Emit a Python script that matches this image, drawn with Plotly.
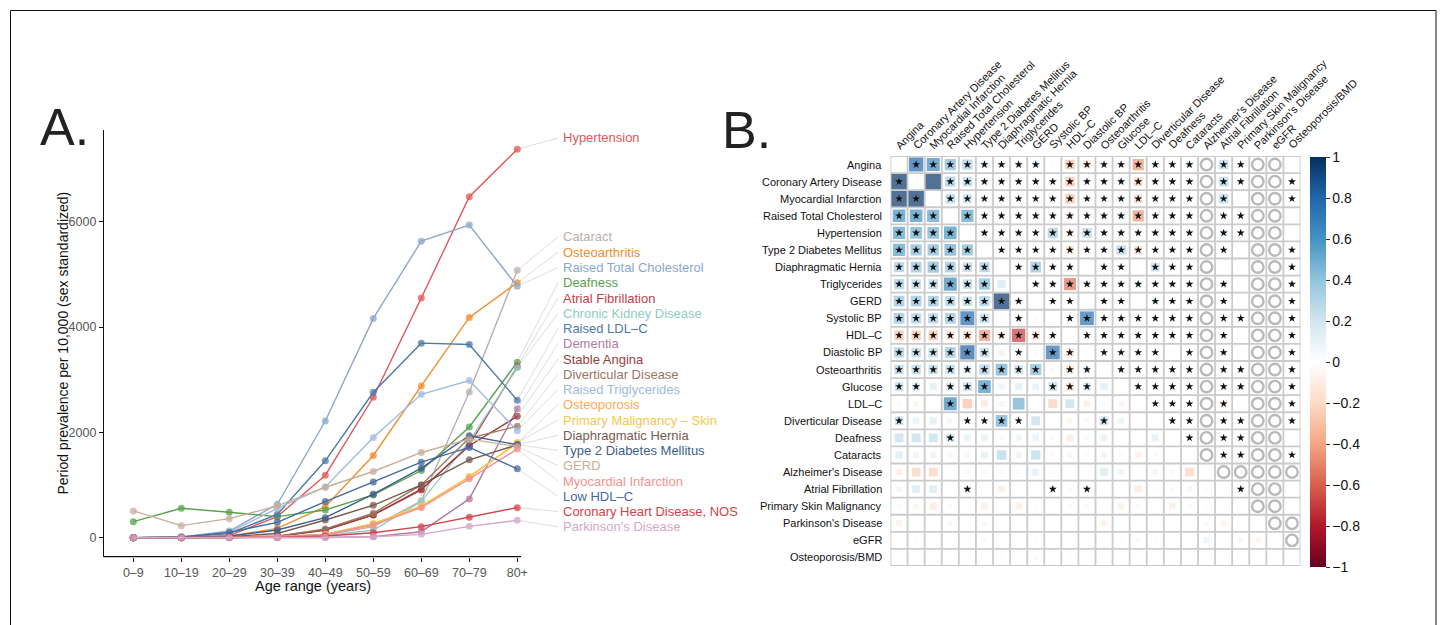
import math
import plotly.graph_objects as go

W, H = 1444, 625

# ---------------- Panel A data ----------------
ages = ["0–9", "10–19", "20–29", "30–39", "40–49", "50–59", "60–69", "70–79", "80+"]

hypertension = [0, 5, 40, 400, 1187, 2667, 4552, 6476, 7378]
cataract = [0, 0, 5, 15, 50, 210, 700, 2769, 5080]
osteoarthritis = [0, 2, 30, 178, 590, 1562, 2883, 4184, 4844]
raised_total_chol = [0, 10, 127, 635, 2216, 4165, 5632, 5937, 4775]
deafness = [305, 559, 483, 400, 527, 813, 1276, 2102, 3334]
atrial_fib = [0, 0, 5, 30, 146, 432, 908, 1765, 3250]
ckd = [0, 0, 5, 15, 40, 146, 686, 1829, 3226]
raised_ldl = [0, 10, 80, 444, 1460, 2762, 3695, 3670, 2610]
dementia = [0, 0, 0, 0, 5, 20, 114, 737, 2451]
stable_angina = [0, 0, 5, 20, 146, 432, 921, 1746, 2305]
diverticular = [0, 0, 5, 30, 165, 464, 1003, 1892, 2115]
raised_trig = [0, 15, 100, 559, 965, 1905, 2724, 2985, 2032]
osteoporosis = [0, 0, 5, 15, 60, 260, 590, 1162, 1797]
skin_malig = [0, 0, 5, 20, 60, 273, 603, 1150, 1810]
diaph_hernia = [0, 0, 20, 80, 337, 616, 1003, 1480, 1765]
t2dm = [0, 5, 30, 146, 381, 826, 1321, 1937, 1765]
gerd = [508, 229, 362, 603, 959, 1257, 1619, 1873, 1733]
myocardial_inf = [0, 0, 5, 20, 60, 241, 571, 1118, 1683]
low_hdl = [0, 15, 100, 292, 686, 1060, 1435, 1715, 1308]
chd_nos = [0, 0, 2, 10, 32, 95, 210, 387, 571]
parkinsons = [0, 0, 0, 2, 5, 19, 64, 216, 330]

series_names = ["Hypertension", "Cataract", "Osteoarthritis", "Raised Total Cholesterol",
                "Deafness", "Atrial Fibrillation", "Chronic Kidney Disease", "Raised LDL–C",
                "Dementia", "Stable Angina", "Diverticular Disease", "Raised Triglycerides",
                "Osteoporosis", "Primary Malignancy – Skin", "Diaphragmatic Hernia",
                "Type 2 Diabetes Mellitus", "GERD", "Myocardial Infarction", "Low HDL–C",
                "Coronary Heart Disease, NOS", "Parkinson's Disease"]
series_values = [hypertension, cataract, osteoarthritis, raised_total_chol, deafness,
                 atrial_fib, ckd, raised_ldl, dementia, stable_angina, diverticular,
                 raised_trig, osteoporosis, skin_malig, diaph_hernia, t2dm, gerd,
                 myocardial_inf, low_hdl, chd_nos, parkinsons]
series_colors = ["#E15759", "#BAB0AC", "#F28E2B", "#8BA8CB", "#59A14F", "#C1414B",
                 "#8FCCC3", "#4E79A7", "#B07AA1", "#9A3D3D", "#9C755F", "#A0BBDD",
                 "#FBAA55", "#F2C94C", "#7A5A4E", "#3E5F8A", "#C9AE9C", "#F4938F",
                 "#45699C", "#D5414A", "#D6A7C9"]

# ---------------- Panel B data ----------------
vars_b = ["Angina", "Coronary Artery Disease", "Myocardial Infarction", "Raised Total Cholesterol",
          "Hypertension", "Type 2 Diabetes Mellitus", "Diaphragmatic Hernia", "Triglycerides",
          "GERD", "Systolic BP", "HDL–C", "Diastolic BP", "Osteoarthritis", "Glucose", "LDL–C",
          "Diverticular Disease", "Deafness", "Cataracts", "Alzheimer's Disease",
          "Atrial Fibrillation", "Primary Skin Malignancy", "Parkinson's Disease", "eGFR",
          "Osteoporosis/BMD"]

corr = [
    [0, .80, .65, .45, .35, .15, .10, .10, .15, .03, -.30, -.20, .10, .10, -.45, .12, .08, .12, 0, .30, .05, 0, 0, .02],
    [.98, 0, .98, .35, .30, .10, .08, .08, .10, .08, -.30, .05, .08, .10, -.25, .12, .08, .10, 0, .30, .05, 0, 0, .05],
    [.98, .98, 0, .30, .25, .10, .08, .08, .10, .05, -.30, .05, .08, .10, -.22, .12, .08, .10, 0, .30, .03, 0, 0, .05],
    [.60, .60, .55, 0, .55, .10, .10, .12, .12, .10, -.15, .05, .10, .15, -.45, .10, .08, .10, 0, .10, .05, 0, 0, .02],
    [.55, .50, .50, .60, 0, .12, .08, .10, .05, .35, -.15, .30, .08, .12, .05, .10, .08, .08, 0, .15, .05, 0, 0, .02],
    [.55, .45, .45, .50, .45, 0, .05, .05, .05, .05, -.20, .05, .08, .30, -.20, .05, .05, .05, 0, .05, .02, 0, 0, .05],
    [.35, .40, .45, .40, .30, .35, 0, .05, .40, .05, .05, .02, .10, .05, .01, .25, .05, .05, 0, .03, .02, 0, 0, .05],
    [.35, .30, .30, .65, .30, .45, .20, 0, .05, .10, -.55, .12, .05, .05, .15, .05, .05, .05, 0, .05, .01, 0, 0, .05],
    [.40, .40, .40, .35, .30, .35, .98, .10, 0, .05, .05, .02, .10, .05, .01, .12, .05, .05, 0, .05, .01, 0, 0, .05],
    [.40, .35, .35, .40, .78, .30, .03, .10, .03, 0, .05, .75, .05, .10, .05, .05, .05, .05, 0, .05, .05, 0, 0, .05],
    [-.30, -.30, -.30, -.20, -.25, -.45, -.15, -.70, -.20, -.10, 0, -.10, .05, .05, .08, .05, .03, .03, 0, -.08, .02, 0, 0, -.08],
    [.35, .30, .30, .40, .82, .30, .10, .10, .05, .75, -.20, 0, .05, .05, .05, .05, .02, .05, 0, .05, .01, 0, 0, .05],
    [.30, .30, .30, .30, .20, .35, .50, .25, .45, .05, -.20, .15, 0, .05, .05, .10, .05, .10, 0, .05, .05, 0, 0, .05],
    [.25, .20, .15, .20, .25, .60, .10, .15, .12, .25, -.20, .20, .15, 0, .05, .05, .05, .05, 0, .05, .05, 0, 0, .05],
    [-.05, -.08, .02, .65, -.30, -.15, .08, .50, .02, -.25, .25, -.12, .05, -.08, 0, .05, .05, .05, 0, -.10, .01, 0, 0, .05],
    [.25, .12, .15, .08, .05, .05, .50, .05, .25, .02, -.08, .05, .25, .10, .01, 0, .05, .05, 0, .05, .05, 0, 0, .05],
    [.25, .25, .25, .22, .12, .12, .05, .10, .12, .05, -.14, .05, .12, .01, .02, .14, 0, .05, 0, .05, .05, 0, 0, .01],
    [.16, .10, .10, .08, .08, .14, .30, .10, .28, .05, -.08, .05, .10, .05, -.10, .05, .02, 0, 0, .05, .05, 0, 0, .05],
    [-.10, -.24, -.24, .01, -.05, .05, -.05, .05, .14, -.03, -.02, .02, .18, .10, .02, .08, .05, -.24, 0, 0, 0, 0, 0, 0],
    [.08, .18, .18, .02, .12, .02, -.12, .01, .01, .08, -.05, .10, .02, .02, -.14, .03, .05, .08, -.05, 0, .05, 0, 0, .01],
    [-.05, -.08, -.14, -.05, -.02, -.12, -.02, -.12, -.03, -.02, .05, -.05, .01, -.10, .05, .02, -.12, -.05, -.03, .01, 0, 0, 0, .01],
    [-.10, -.02, .01, -.06, -.02, -.06, .02, -.02, .02, .02, .02, .02, -.10, .02, .02, .02, .02, -.03, -.05, -.08, .02, 0, 0, 0],
    [.01, -.03, -.03, -.02, .02, .05, -.02, .02, .03, .02, .02, .02, .02, .03, .05, .03, .01, .03, .10, .03, .06, -.08, 0, 0],
    [.03, .01, .01, .01, .02, .03, -.03, .01, -.05, .01, -.03, .02, .03, .01, .02, .02, .01, .02, .02, .02, .02, .02, .01, 0],
]

# '*' significant, 'o' not estimable, '.' plain, '-' diagonal
marks = [
    "-********.********o**oo.",
    "*-.***************o**oo*",
    "**-***************o*.oo*",
    "***-**************o**oo.",
    "****-*************o**oo.",
    "*****-************o*.oo*",
    "******-****.**.***o..oo*",
    "******.-**********o*.oo*",
    "********-**.**.***o*.oo*",
    "******.*.-********o**oo*",
    "**********-*******o*.oo*",
    "******.*.**-****.*o*.oo*",
    "*********.**-*****o**oo*",
    "**.***...***.-****o**oo*",
    "...*..........-***o*.oo*",
    "*...****....*..-**o**oo*",
    "...*............-*o**oo.",
    ".................-o**oo*",
    "..................-ooooo",
    "....*....*.*.......-*oo.",
    "....................-oo.",
    ".....................-oo",
    "......................-o",
    ".......................-",
]

colorbar_ticks = [1, 0.8, 0.6, 0.4, 0.2, 0, -0.2, -0.4, -0.6, -0.8, -1]

# ---------------- layout helpers (pixels -> paper) ----------------
def px(x):
    return x / W

def py(y):
    return 1 - y / H

FONT = "Liberation Sans, Arial, Helvetica, sans-serif"

# Panel A axes geometry
A_left, A_right_dom, A_top, A_bottom = 104, 740, 130, 556.7
unit_px = 48.0
x0_px = 133.3
xr = [(A_left - x0_px) / unit_px, (A_right_dom - x0_px) / unit_px]
zero_px, per2000 = 537.7, 105.3
def val_from_py(p):
    return (zero_px - p) * 2000 / per2000
yr = [val_from_py(A_bottom), val_from_py(A_top)]

fig = go.Figure()

# connectors for labels
label_px = [138] + [237 + 15.25 * k for k in range(len(series_names) - 1)]
label_vals = [val_from_py(p) for p in label_px]
xs_con, ys_con = [], []
for v, lv in zip(series_values, label_vals):
    xs_con += [8, (558 - x0_px) / unit_px, None]
    ys_con += [v[-1], lv, None]
fig.add_trace(go.Scatter(x=xs_con, y=ys_con, mode="lines", xaxis="x", yaxis="y",
                         line=dict(color="#d4d4d4", width=0.8), hoverinfo="skip",
                         showlegend=False))

xi = list(range(len(ages)))
for name, vals, col in zip(series_names, series_values, series_colors):
    fig.add_trace(go.Scatter(x=xi, y=vals, mode="lines+markers", name=name,
                             xaxis="x", yaxis="y",
                             line=dict(color=col, width=1.4),
                             marker=dict(color=col, size=7, opacity=0.75),
                             showlegend=False))

annotations = []
for name, col, lv in zip(series_names, series_colors, label_vals):
    annotations.append(dict(x=(561 - x0_px) / unit_px, y=lv, xref="x", yref="y",
                            text=name, showarrow=False, xanchor="left", yanchor="middle",
                            font=dict(family=FONT, size=13, color=col)))

# ---------------- Panel B ----------------
n = len(vars_b)
B_left, B_right, B_top, B_bottom = 890.5, 1300.5, 156, 566
cell = (B_right - B_left) / n

# grid
gx, gy = [], []
for k in range(n + 1):
    gx += [k - 0.5, k - 0.5, None]
    gy += [-0.5, n - 0.5, None]
    gx += [-0.5, n - 0.5, None]
    gy += [k - 0.5, k - 0.5, None]
fig.add_trace(go.Scatter(x=gx, y=gy, mode="lines", xaxis="x2", yaxis="y2",
                         line=dict(color="#cbcbcb", width=1.8), hoverinfo="skip",
                         showlegend=False))

sq_x, sq_y, sq_c, sq_s = [], [], [], []
st_x, st_y, o_x, o_y = [], [], [], []
for i in range(n):
    for j in range(n):
        m = marks[i][j]
        if m == "-":
            continue
        if m == "o":
            o_x.append(j); o_y.append(i)
            continue
        r = corr[i][j]
        sq_x.append(j); sq_y.append(i); sq_c.append(r)
        sq_s.append(max(2.8, (cell - 1.6) * abs(r) ** 0.4))
        if m == "*":
            st_x.append(j); st_y.append(i)

rdbu = ["#67001F", "#B2182B", "#D6604D", "#F4A582", "#FDDBC7", "#FFFFFF",
        "#D1E5F0", "#92C5DE", "#4393C3", "#2166AC", "#053061"]
cscale = [[k / (len(rdbu) - 1), c] for k, c in enumerate(rdbu)]

fig.add_trace(go.Scatter(
    x=sq_x, y=sq_y, mode="markers", xaxis="x2", yaxis="y2", showlegend=False,
    marker=dict(symbol="square", size=sq_s, color=sq_c, colorscale=cscale,
                cmin=-1, cmax=1, line=dict(width=0),
                colorbar=dict(x=px(1310), xanchor="left", y=py(B_top + 1), yanchor="top",
                              lenmode="pixels", len=B_bottom - B_top, thickness=16,
                              thicknessmode="pixels", outlinewidth=0, xpad=0, ypad=0,
                              tickvals=colorbar_ticks,
                              ticktext=[("%g" % t).replace("-", "−") for t in colorbar_ticks],
                              ticks="outside", ticklen=4, tickcolor="#333",
                              tickfont=dict(family=FONT, size=14, color="#111")),
                showscale=True)))
fig.add_trace(go.Scatter(x=st_x, y=st_y, mode="markers", xaxis="x2", yaxis="y2",
                         showlegend=False,
                         marker=dict(symbol="star", size=6, color="#111111", line=dict(width=0))))
fig.add_trace(go.Scatter(x=o_x, y=o_y, mode="markers", xaxis="x2", yaxis="y2",
                         showlegend=False,
                         marker=dict(symbol="circle-open", size=11.5, color="#b9b9b9",
                                     line=dict(width=2.4, color="#b9b9b9"))))

# row labels
for i, v in enumerate(vars_b):
    annotations.append(dict(x=px(884), y=py(B_top + cell * (i + 0.5)), xref="paper", yref="paper",
                            text=v, showarrow=False, xanchor="right", yanchor="middle",
                            font=dict(family=FONT, size=11, color="#111")))
# column labels
for j, v in enumerate(vars_b):
    annotations.append(dict(x=px(B_left + cell * (j + 0.5) - 9), y=py(154),
                            xref="paper", yref="paper", text=v, showarrow=False,
                            textangle=-45, xanchor="left", yanchor="bottom",
                            font=dict(family=FONT, size=11, color="#111")))

# panel letters & axis titles
annotations += [
    dict(x=px(38), y=py(127), xref="paper", yref="paper", text="A.", showarrow=False,
         xanchor="left", yanchor="middle", font=dict(family=FONT, size=52, color="#222")),
    dict(x=px(720), y=py(130), xref="paper", yref="paper", text="B.", showarrow=False,
         xanchor="left", yanchor="middle", font=dict(family=FONT, size=52, color="#222")),
    dict(x=px(62), y=py(343.5), xref="paper", yref="paper",
         text="Period prevalence per 10,000 (sex standardized)", showarrow=False,
         textangle=-90, xanchor="center", yanchor="middle",
         font=dict(family=FONT, size=14, color="#111")),
    dict(x=px(313), y=py(586), xref="paper", yref="paper", text="Age range (years)",
         showarrow=False, xanchor="center", yanchor="middle",
         font=dict(family=FONT, size=14.5, color="#111")),
]

shapes = [
    dict(type="line", xref="paper", yref="paper", x0=px(A_left), x1=px(521),
         y0=py(A_bottom), y1=py(A_bottom), line=dict(color="#111", width=1.2)),
    dict(type="rect", xref="paper", yref="paper", x0=px(10.5), x1=px(1436), y0=-0.2,
         y1=py(10.5), line=dict(color="#111", width=1), fillcolor="rgba(0,0,0,0)"),
]

fig.update_layout(
    width=W, height=H, margin=dict(l=0, r=0, t=0, b=0, pad=0),
    paper_bgcolor="white", plot_bgcolor="rgba(0,0,0,0)",
    xaxis=dict(domain=[px(A_left), px(A_right_dom)], range=xr, tickvals=xi, ticktext=ages,
               showgrid=False, zeroline=False, showline=False, ticks="outside", ticklen=4,
               tickcolor="#111", tickfont=dict(family=FONT, size=12.5, color="#555")),
    yaxis=dict(domain=[py(A_bottom), py(A_top)], range=yr, tickvals=[0, 2000, 4000, 6000],
               showgrid=False, zeroline=False, showline=True, linecolor="#111", linewidth=1.2,
               ticks="outside", ticklen=4, tickcolor="#111",
               tickfont=dict(family=FONT, size=12.5, color="#555")),
    xaxis2=dict(domain=[px(B_left), px(B_right)], range=[-0.5, n - 0.5], visible=False,
                anchor="y2"),
    yaxis2=dict(domain=[py(B_bottom), py(B_top)], range=[n - 0.5, -0.5], visible=False,
                anchor="x2"),
    annotations=annotations, shapes=shapes, showlegend=False,
)

fig.write_html("out.html")
